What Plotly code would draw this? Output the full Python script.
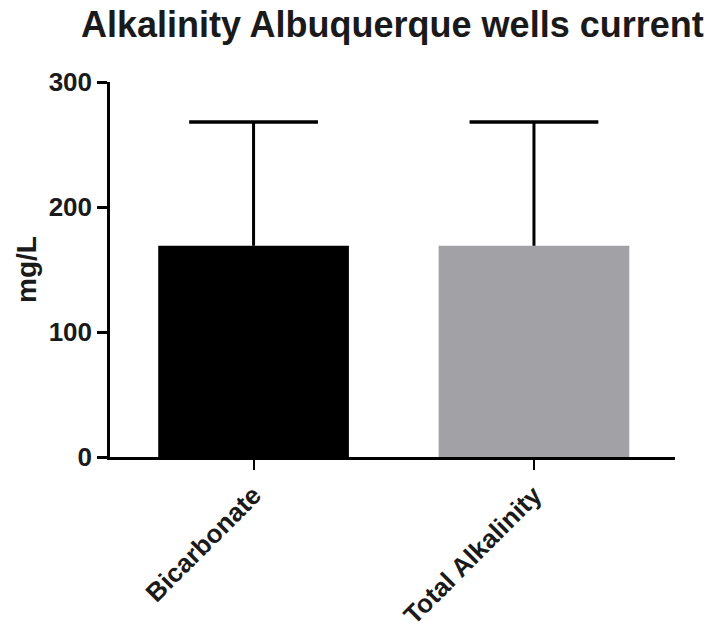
import plotly.graph_objects as go

# Alkalinity measurements (mean and SD, mg/L)
categories = ["Bicarbonate", "Total Alkalinity"]
means = [169, 169]
sd_upper = [99, 99]
bar_colors = ["#000000", "#A2A1A6"]

font_family = "Liberation Sans, Arial, sans-serif"
ink = "#1a1a1a"

fig = go.Figure()
fig.add_trace(go.Bar(
    x=categories,
    y=means,
    width=0.68,
    marker=dict(color=bar_colors, line=dict(width=0)),
    hoverinfo="x+y",
))

# One-sided (upward) SD bars: stem from the bar top to mean + SD, cap at the top
stem_x, stem_y = [], []
for c, m, s in zip(categories, means, sd_upper):
    stem_x += [c, c, None]
    stem_y += [m, m + s, None]
fig.add_trace(go.Scatter(
    x=stem_x, y=stem_y, mode="lines",
    line=dict(color="#000000", width=3),
    hoverinfo="skip",
))
fig.add_trace(go.Scatter(
    x=categories,
    y=[m + s for m, s in zip(means, sd_upper)],
    mode="markers",
    marker=dict(symbol="line-ew", size=92, color="#000000",
                line=dict(color="#000000", width=3.5)),
    hoverinfo="skip",
))

fig.update_layout(
    width=712,
    height=632,
    margin=dict(l=110, r=37, t=82, b=175),
    paper_bgcolor="white",
    plot_bgcolor="white",
    showlegend=False,
    title=dict(
        text="<b>Alkalinity Albuquerque wells current</b>",
        x=0.551,
        xanchor="center",
        y=0.962,
        yanchor="middle",
        font=dict(family=font_family, size=36, color=ink),
    ),
    xaxis=dict(
        range=[-0.512, 1.503],
        tickvals=categories,
        ticktext=[f"<b>{c}</b>" for c in categories],
        automargin=False,
        showline=True,
        linecolor="#000000",
        linewidth=2.5,
        ticks="outside",
        ticklen=10,
        tickwidth=2,
        tickcolor="#000000",
        tickangle=-45,
        tickfont=dict(family=font_family, size=26, color=ink),
        showgrid=False,
        zeroline=False,
    ),
    yaxis=dict(
        range=[0, 300],
        tickvals=[0, 100, 200, 300],
        ticktext=["<b>0</b>", "<b>100</b>", "<b>200</b>", "<b>300</b>"],
        automargin=False,
        showline=True,
        linecolor="#000000",
        linewidth=2.5,
        ticks="outside",
        ticklen=10,
        tickwidth=2.5,
        tickcolor="#000000",
        tickfont=dict(family=font_family, size=26, color=ink),
        showgrid=False,
        zeroline=False,
        title=dict(
            text="<b>mg/L</b>",
            font=dict(family=font_family, size=28, color=ink),
            standoff=4,
        ),
    ),
)

fig.write_html("out.html")
